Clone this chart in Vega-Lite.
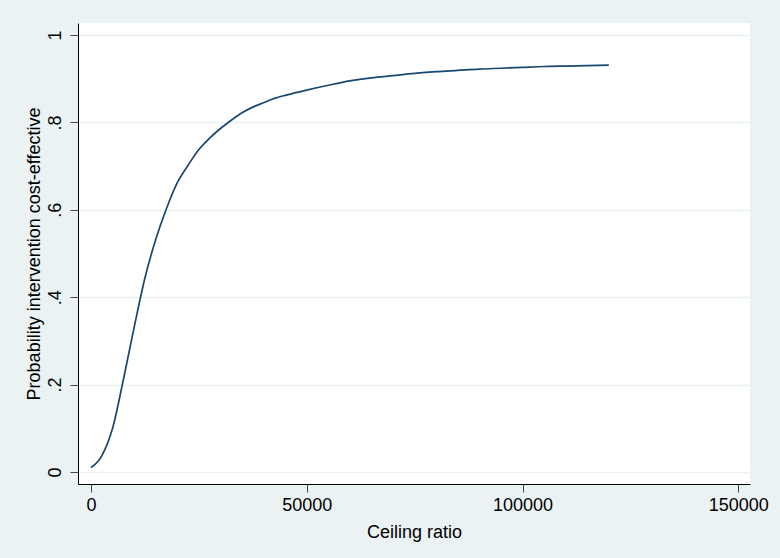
{
  "$schema": "https://vega.github.io/schema/vega-lite/v6.json",
  "autosize": "none",
  "width": 672,
  "height": 461,
  "padding": {"left": 78, "top": 23, "right": 30, "bottom": 74},
  "background": "#EAF2F3",
  "config": {
    "view": {"fill": "white", "stroke": null},
    "font": "Liberation Sans",
    "axis": {
      "labelFont": "Liberation Sans",
      "titleFont": "Liberation Sans",
      "labelFontSize": 18,
      "titleFontSize": 18,
      "titleFontWeight": "normal",
      "labelColor": "#000000",
      "titleColor": "#000000",
      "domainColor": "#000000",
      "domainWidth": 1,
      "tickColor": "#444444",
      "tickSize": 8,
      "tickWidth": 1
    }
  },
  "data": {
    "values": [
      {"ceiling": 0, "prob": 0.01},
      {"ceiling": 2500, "prob": 0.037},
      {"ceiling": 5000, "prob": 0.10},
      {"ceiling": 7500, "prob": 0.211},
      {"ceiling": 10000, "prob": 0.331},
      {"ceiling": 12500, "prob": 0.444},
      {"ceiling": 15000, "prob": 0.532},
      {"ceiling": 17500, "prob": 0.603},
      {"ceiling": 20000, "prob": 0.662},
      {"ceiling": 22500, "prob": 0.702},
      {"ceiling": 25000, "prob": 0.738},
      {"ceiling": 27500, "prob": 0.764},
      {"ceiling": 30000, "prob": 0.786},
      {"ceiling": 32500, "prob": 0.805},
      {"ceiling": 35000, "prob": 0.822},
      {"ceiling": 37500, "prob": 0.835},
      {"ceiling": 40000, "prob": 0.845},
      {"ceiling": 42500, "prob": 0.855},
      {"ceiling": 45000, "prob": 0.862},
      {"ceiling": 47500, "prob": 0.868},
      {"ceiling": 50000, "prob": 0.874},
      {"ceiling": 55000, "prob": 0.885},
      {"ceiling": 60000, "prob": 0.895},
      {"ceiling": 65000, "prob": 0.902},
      {"ceiling": 70000, "prob": 0.907},
      {"ceiling": 75000, "prob": 0.912},
      {"ceiling": 80000, "prob": 0.916},
      {"ceiling": 85000, "prob": 0.919},
      {"ceiling": 90000, "prob": 0.922},
      {"ceiling": 95000, "prob": 0.924},
      {"ceiling": 100000, "prob": 0.926},
      {"ceiling": 105000, "prob": 0.928},
      {"ceiling": 110000, "prob": 0.929},
      {"ceiling": 115000, "prob": 0.930},
      {"ceiling": 120000, "prob": 0.931}
    ]
  },
  "mark": {"type": "line", "color": "#1A476F", "strokeWidth": 1.7, "interpolate": "monotone"},
  "encoding": {
    "x": {
      "field": "ceiling",
      "type": "quantitative",
      "title": "Ceiling ratio",
      "scale": {"domain": [-3011, 152720], "nice": false, "zero": false},
      "axis": {
        "values": [0, 50000, 100000, 150000],
        "format": "d",
        "grid": false,
        "labelPadding": 4,
        "titlePadding": 9
      }
    },
    "y": {
      "field": "prob",
      "type": "quantitative",
      "title": "Probability intervention cost-effective",
      "scale": {"domain": [-0.0275, 1.0275], "nice": false, "zero": false},
      "axis": {
        "values": [0, 0.2, 0.4, 0.6, 0.8, 1],
        "labelExpr": "datum.value < 0.05 ? '0' : datum.value > 0.95 ? '1' : '.' + format(datum.value * 10, '.0f')",
        "labelAngle": 270,
        "labelAlign": "center",
        "labelBaseline": "bottom",
        "labelPadding": 6,
        "grid": true,
        "gridColor": "#EAF2F3",
        "gridWidth": 1.5,
        "titlePadding": 3
      }
    }
  }
}
